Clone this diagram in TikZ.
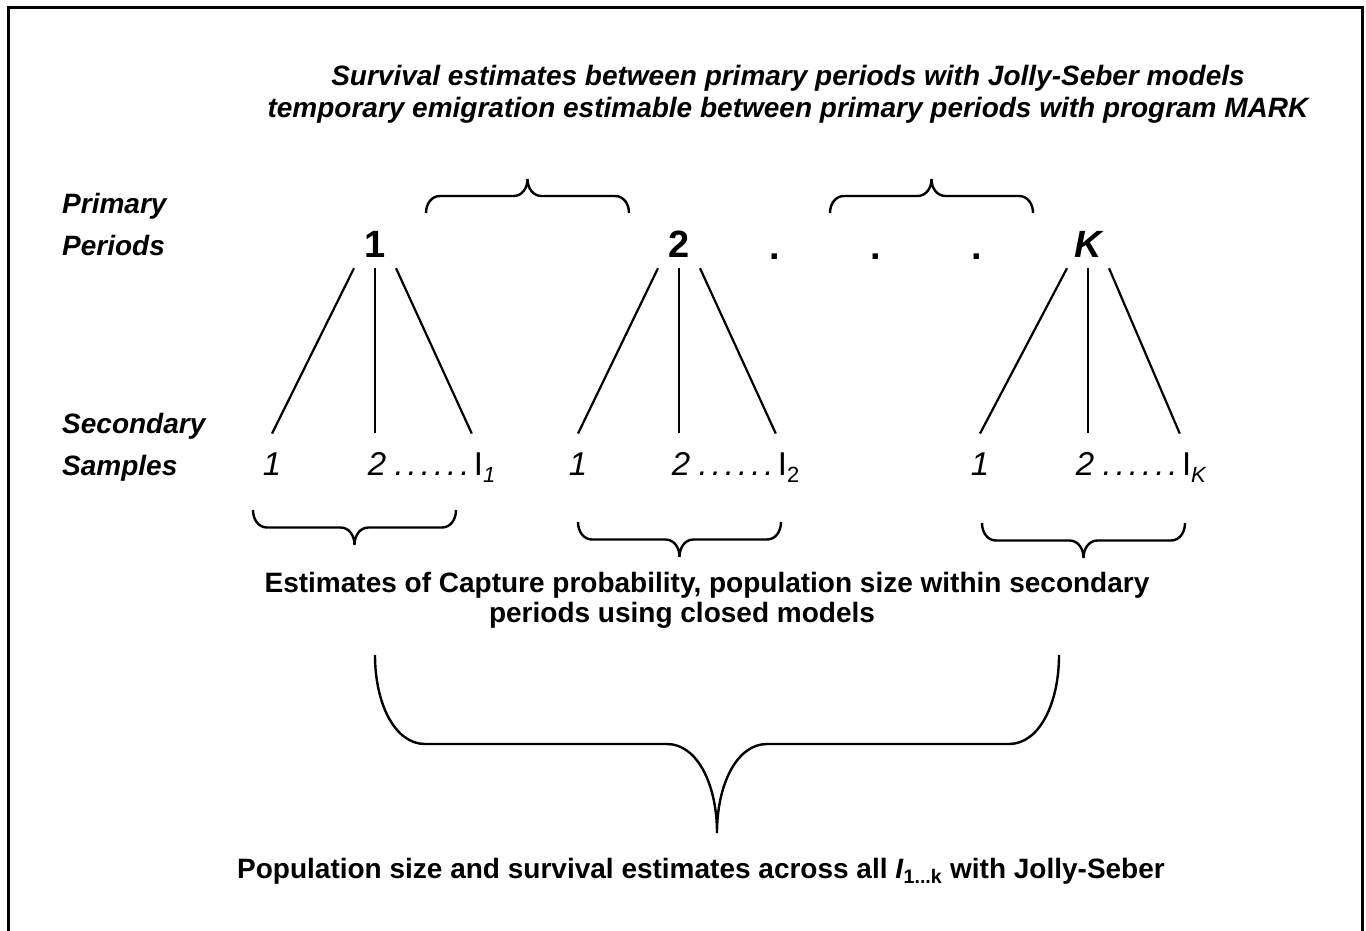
\documentclass[tikz,border=0pt]{standalone}
\usepackage{fontspec}
\setmainfont{Liberation Sans}
\usetikzlibrary{positioning,calc}
\newcommand{\dotrun}{\kern4pt.\kern4pt.\kern4pt.\kern4pt.\kern4pt.\kern4pt.}
\tikzset{
  notelabel/.style={font=\bfseries\itshape\fontsize{28}{32}\selectfont,align=center,anchor=north,inner sep=0pt},
  sidelabel/.style={font=\bfseries\itshape\fontsize{28}{42}\selectfont,align=left,anchor=north west,inner sep=0pt},
  estlabel/.style={font=\bfseries\fontsize{28}{30}\selectfont,align=center,inner sep=0pt},
  primnum/.style={font=\bfseries\fontsize{38}{38}\selectfont,anchor=base,inner xsep=2pt,inner ysep=11pt},
  secnum/.style={font=\itshape\fontsize{33}{33}\selectfont,anchor=base,inner xsep=2pt,inner ysep=18.5pt},
  branch/.style={line width=2.2pt},
  curlyline/.style={line width=2.4pt},
  curly/.style 2 args={to path={
    (\tikztostart) .. controls +(0,{0.55*(#1)}) and +({-0.6*(#2)},0) .. ++(#2,#1)
    -- ($(\tikztostart)!0.5!(\tikztotarget)+({-(#2)},#1)$)
    .. controls +({0.6*(#2)},0) and +(0,{-0.55*(#1)}) .. ++(#2,#1)
    .. controls +(0,{-0.55*(#1)}) and +({-0.6*(#2)},0) .. ++(#2,{-(#1)})
    -- ($(\tikztotarget)+({-(#2)},#1)$)
    .. controls +({0.6*(#2)},0) and +(0,{0.55*(#1)}) .. (\tikztotarget)}}
}

\begin{document}
\begin{tikzpicture}[x=1pt,y=-1pt]
  \useasboundingbox (0,0) rectangle (1366,931);
  \draw[line width=3pt] (8,931) -- (8,8) -- (1362,8) -- (1362,931);
  % labels
  \node[notelabel] (survival) at (788,65) {Survival estimates between primary periods with Jolly-Seber models\\temporary emigration estimable between primary periods with program MARK};
  \node[sidelabel] (primary) at (62,193) {Primary\\Periods};
  \node[sidelabel] (secondary) at (62,413) {Secondary\\Samples};
  % primary periods
  \node[primnum] (p1) at (375,257) {1};
  \node[primnum] (p2) at (679,257) {2};
  \node[primnum] (pK) at (1088,257) {\itshape K};
  \foreach \x in {775,876,977}
    \node[primnum] (pd\x) at (\x,259) {.};
  % secondary samples
  \node[secnum] (s11) at (272,475) {1};
  \node[secnum] (s12) at (377,475) {2};
  \node[secnum,base right=0pt of s12] (d1) {\dotrun};
  \node[secnum,base right=0pt of d1] (s13) {\upshape I\raisebox{-7pt}{\fontsize{22}{22}\selectfont\itshape 1}};
  \node[secnum] (s21) at (578,475) {1};
  \node[secnum] (s22) at (681,475) {2};
  \node[secnum,base right=0pt of s22] (d2) {\dotrun};
  \node[secnum,base right=0pt of d2] (s23) {\upshape I\raisebox{-7pt}{\fontsize{22}{22}\selectfont 2}};
  \node[secnum] (sK1) at (980,475) {1};
  \node[secnum] (sK2) at (1085,475) {2};
  \node[secnum,base right=0pt of sK2] (dK) {\dotrun};
  \node[secnum,base right=0pt of dK] (sK3) {\upshape I\raisebox{-7pt}{\fontsize{22}{22}\selectfont\itshape K}};
  \foreach \g in {1,2,K} {
    \draw[branch] ([xshift=-21pt]p\g.south) -- (s\g1.north);
    \draw[branch] (p\g.south) -- (p\g.south |- s\g2.north);
    \draw[branch] ([xshift=21pt]p\g.south) -- (s\g3.north west);
  }
  % braces
  \draw[curlyline] (426,213) to[curly={-17}{14}] (629,213);
  \draw[curlyline] (830,213) to[curly={-17}{14}] (1033,213);
  \draw[curlyline] (253,510) to[curly={17.5}{14}] (456,510);
  \draw[curlyline] (578,522) to[curly={17.5}{14}] (781,522);
  \draw[curlyline] (982,523) to[curly={17.5}{14}] (1185,523);
  \node[estlabel,anchor=north] (closed) at (707,572) {Estimates of Capture probability, population size within secondary\\\hspace*{-50pt}periods using closed models};
  \draw[curlyline] (375,655) to[curly={89}{50}] (1059,655);
  \node[estlabel,anchor=base] (overall) at (701,878) {Population size and survival estimates across all \textit{I}\textsubscript{1...k} with Jolly-Seber};
\end{tikzpicture}
\end{document}
